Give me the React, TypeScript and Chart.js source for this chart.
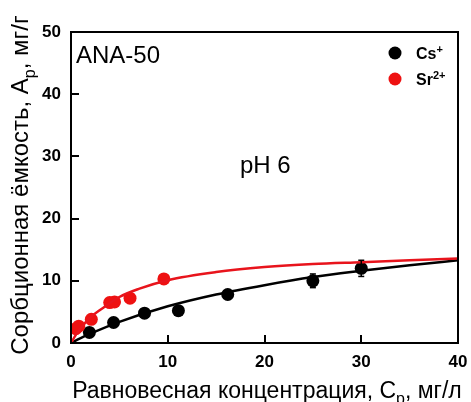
import React, { useEffect, useRef } from "react";
import { Chart, registerables } from "chart.js";

Chart.register(...registerables);

// Experimental points
const csX = [1.9, 4.4, 7.6, 11.1, 16.2, 25.0, 30.0];
const csY = [1.7, 3.3, 4.8, 5.2, 7.8, 10.0, 12.0];
const csErr = [0, 0, 0, 0, 0, 1.1, 1.3];
const srX = [0.5, 0.8, 2.1, 4.0, 4.5, 6.1, 9.6];
const srY = [2.3, 2.7, 3.8, 6.5, 6.6, 7.2, 10.3];

// Fit curves
const csFitX = [0, 1, 2, 5, 10, 15, 20, 25, 30, 35, 40];
const csFitY = [0, 0.8, 1.5, 3.4, 5.9, 7.8, 9.3, 10.6, 11.6, 12.5, 13.3];
const srFitX = [0, 0.5, 1, 2, 3, 5, 7, 10, 15, 20, 25, 30, 35, 40];
const srFitY = [0, 1.3, 2.4, 4.1, 5.3, 7.4, 8.7, 10.1, 11.4, 12.2, 12.7, 13.0, 13.3, 13.6];

const xTicks = [0, 10, 20, 30, 40];
const yTicks = [0, 10, 20, 30, 40, 50];

const FONT = "'Liberation Sans', Arial, sans-serif";
const AXIS = "#000000";

type Seg = { t: string; sub?: boolean; sup?: boolean };

function drawRich(ctx: CanvasRenderingContext2D, segs: Seg[], x: number, y: number, size: number, bold: boolean, align: "center" | "left") {
  const w = (s: Seg) => {
    ctx.font = `${bold ? "bold " : ""}${s.sub || s.sup ? Math.round(size * 0.68) : size}px ${FONT}`;
    return ctx.measureText(s.t).width;
  };
  const total = segs.reduce((a, s) => a + w(s), 0);
  let cx = align === "center" ? x - total / 2 : x;
  ctx.textBaseline = "alphabetic";
  ctx.textAlign = "left";
  for (const s of segs) {
    const ww = w(s);
    const dy = s.sub ? size * 0.28 : s.sup ? -size * 0.4 : 0;
    ctx.fillText(s.t, cx, y + dy);
    cx += ww;
  }
}

const decor = {
  id: "decor",
  afterDraw(chart: any) {
    const ctx: CanvasRenderingContext2D = chart.ctx;
    const xs = chart.scales.x, ys = chart.scales.y;
    const L = Math.round(xs.getPixelForValue(0)), R = Math.round(xs.getPixelForValue(40));
    const T = Math.round(ys.getPixelForValue(50)), B = Math.round(ys.getPixelForValue(0));
    ctx.save();
    ctx.fillStyle = AXIS;
    // frame (2px, pixel aligned)
    ctx.fillRect(L - 1, T - 1, R - L + 2, 2);
    ctx.fillRect(L - 1, B - 1, R - L + 2, 2);
    ctx.fillRect(L - 1, T - 1, 2, B - T + 2);
    ctx.fillRect(R - 1, T - 1, 2, B - T + 2);
    // inward ticks
    xTicks.forEach((v) => {
      const px = Math.round(xs.getPixelForValue(v));
      ctx.fillRect(px - 1, B - 8, 2, 8);
    });
    yTicks.forEach((v) => {
      const py = Math.round(ys.getPixelForValue(v));
      ctx.fillRect(L, py - 1, 8, 2);
    });
    // error bars
    ctx.fillStyle = "#000";
    csX.forEach((xv, i) => {
      if (!csErr[i]) return;
      const px = xs.getPixelForValue(xv);
      const p1 = ys.getPixelForValue(csY[i] - csErr[i]);
      const p2 = ys.getPixelForValue(csY[i] + csErr[i]);
      ctx.fillRect(px - 0.75, p2, 1.5, p1 - p2);
      ctx.fillRect(px - 3, p1 - 0.75, 6, 1.5);
      ctx.fillRect(px - 3, p2 - 0.75, 6, 1.5);
    });
    // texts
    ctx.fillStyle = "#000";
    drawRich(ctx, [{ t: "ANA-50" }], 76, 63, 24, false, "left");
    drawRich(ctx, [{ t: "pH 6" }], 240, 173, 24, false, "left");
    // legend
    ctx.beginPath(); ctx.fillStyle = "#000"; ctx.arc(395, 53, 6.5, 0, Math.PI * 2); ctx.fill();
    ctx.beginPath(); ctx.fillStyle = "#ee1111"; ctx.arc(395, 79, 6.5, 0, Math.PI * 2); ctx.fill();
    ctx.fillStyle = "#000";
    drawRich(ctx, [{ t: "Cs" }, { t: "+", sup: true }], 416, 59, 16, true, "left");
    drawRich(ctx, [{ t: "Sr" }, { t: "2+", sup: true }], 416, 85, 16, true, "left");
    // axis titles
    drawRich(ctx, [{ t: "Равновесная концентрация, C" }, { t: "р", sub: true }, { t: ", мг/л" }], 267, 398, 23, false, "center");
    ctx.translate(28, 185);
    ctx.rotate(-Math.PI / 2);
    drawRich(ctx, [{ t: "Сорбционная ёмкость, A" }, { t: "р", sub: true }, { t: ", мг/г" }], 0, 0, 24, false, "center");
    ctx.restore();
  },
};

export default function App() {
  const ref = useRef<HTMLCanvasElement>(null);
  useEffect(() => {
    document.body.style.margin = "0";
    const toPts = (xa: number[], ya: number[]) => xa.map((x, i) => ({ x, y: ya[i] }));
    const chart = new Chart(ref.current!, {
      type: "scatter",
      data: {
        datasets: [
          { type: "line", data: toPts(srFitX, srFitY), borderColor: "#e8141c", borderWidth: 2.5, pointRadius: 0, cubicInterpolationMode: "monotone", fill: false } as any,
          { type: "line", data: toPts(csFitX, csFitY), borderColor: "#000", borderWidth: 2.5, pointRadius: 0, cubicInterpolationMode: "monotone", fill: false } as any,
          { data: toPts(srX, srY), backgroundColor: "#ee1111", borderColor: "#ee1111", pointRadius: 6.5, borderWidth: 0 },
          { data: toPts(csX, csY), backgroundColor: "#000", borderColor: "#000", pointRadius: 6.5, borderWidth: 0 },
        ],
      },
      options: {
        animation: false,
        responsive: false,
        layout: { padding: { left: 0, right: 13, top: 32, bottom: 0 } },
        plugins: { legend: { display: false }, tooltip: { enabled: false } },
        scales: {
          x: {
            type: "linear", position: "bottom", min: 0, max: 40,
            afterBuildTicks: (s: any) => { s.ticks = xTicks.map((v) => ({ value: v })); },
            afterFit: (s: any) => { s.height = 59; s.paddingLeft = 0; s.paddingRight = 0; },
            grid: { display: false, drawTicks: false },
            border: { display: false },
            ticks: { color: "#000", font: { family: FONT, size: 17, weight: "bold" }, padding: 9, maxRotation: 0 },
          },
          y: {
            type: "linear", position: "left", min: 0, max: 50,
            afterBuildTicks: (s: any) => { s.ticks = yTicks.map((v) => ({ value: v })); },
            afterFit: (s: any) => { s.width = 71; s.paddingTop = 0; s.paddingBottom = 0; },
            grid: { display: false, drawTicks: false },
            border: { display: false },
            ticks: { color: "#000", font: { family: FONT, size: 17, weight: "bold" }, padding: 10 },
          },
        },
      } as any,
      plugins: [decor],
    });
    return () => chart.destroy();
  }, []);
  return <canvas ref={ref} width={471} height={402} style={{ display: "block" }} />;
}
